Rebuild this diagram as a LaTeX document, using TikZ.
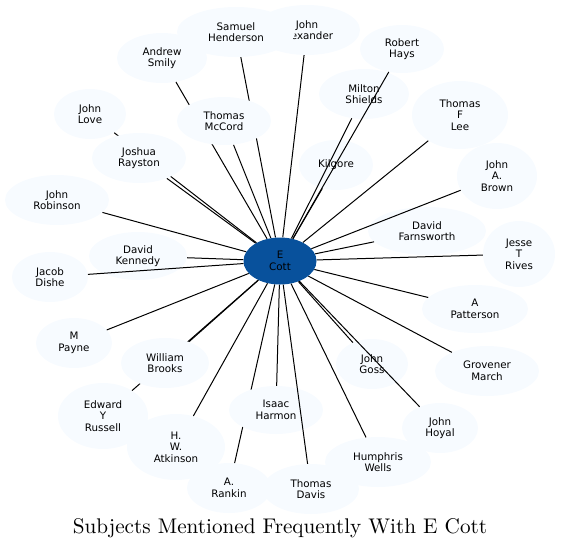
\documentclass[tikz,border=0pt]{standalone}
\usepackage{fontspec}
\usetikzlibrary{shapes.geometric}
\newfontfamily\nodefont{DejaVu Sans}
\newfontfamily\titlefont{lmroman10-regular}[Extension=.otf]
\definecolor{nodefill}{HTML}{F7FBFF}
\definecolor{hubfill}{HTML}{08519C}
\pgfdeclarelayer{below}
\pgfdeclarelayer{edges}
\pgfdeclarelayer{top}
\pgfsetlayers{below,edges,main,top}
\tikzset{
  person/.style={ellipse, fill=nodefill, draw=none, inner sep=0pt, align=center,
    font=\nodefont\fontsize{10.3}{11.6}\selectfont},
  hub/.style={person, fill=hubfill},
  link/.style={draw=black, line width=1pt}
}
\begin{document}
\begin{tikzpicture}[x=1pt,y=-1pt]
\useasboundingbox (0,0) rectangle (561,550);
\begin{pgfonlayer}{below}
\node[person, minimum width=106, minimum height=50] (alexander) at (307,30) {John\\Alexander};
\node[person, minimum width=118, minimum height=50] (henderson) at (236,32) {Samuel\\Henderson};
\node[person, minimum width=90, minimum height=50] (smily) at (162,58) {Andrew\\Smily};
\node[person, minimum width=84, minimum height=48] (hays) at (402,49) {Robert\\Hays};
\node[person, minimum width=90, minimum height=50] (shields) at (364,94) {Milton\\Shields};
\node[person, minimum width=96, minimum height=68] (lee) at (460,115) {Thomas\\F\\Lee};
\node[person, minimum width=72, minimum height=50] (love) at (90,114) {John\\Love};
\node[person, minimum width=74, minimum height=50] (kilgore) at (336,165) {Kilgore};
\node[person, minimum width=80, minimum height=66] (brown) at (497,176) {John\\A.\\Brown};
\node[person, minimum width=104, minimum height=50] (robinson) at (57,200) {John\\Robinson};
\node[person, minimum width=118, minimum height=48] (farnsworth) at (427,231) {David\\Farnsworth};
\node[person, minimum width=72, minimum height=66] (rives) at (519,254) {Jesse\\T\\Rives};
\node[person, minimum width=98, minimum height=48] (kennedy) at (138,256) {David\\Kennedy};
\node[person, minimum width=76, minimum height=50] (dishe) at (50,277) {Jacob\\Dishe};
\node[person, minimum width=106, minimum height=48] (patterson) at (475,309) {A\\Patterson};
\node[person, minimum width=76, minimum height=50] (payne) at (74,343) {M\\Payne};
\node[person, minimum width=72, minimum height=50] (goss) at (372,364) {John\\Goss};
\node[person, minimum width=104, minimum height=50] (march) at (487,371) {Grovener\\March};
\node[person, minimum width=90, minimum height=66] (russell) at (103,416) {Edward\\Y\\Russell};
\node[person, minimum width=76, minimum height=50] (hoyal) at (440,428) {John\\Hoyal};
\node[person, minimum width=98, minimum height=66] (atkinson) at (176,447) {H.\\W.\\Atkinson};
\node[person, minimum width=106, minimum height=50] (wells) at (378,462) {Humphris\\Wells};
\node[person, minimum width=84, minimum height=50] (rankin) at (229,488) {A.\\Rankin};
\node[person, minimum width=96, minimum height=50] (davis) at (311,489) {Thomas\\Davis};
\end{pgfonlayer}
% nodes that hide edges passing beneath them
\node[person, minimum width=94, minimum height=48] (mccord) at (224,121) {Thomas\\McCord};
\node[person, minimum width=94, minimum height=50] (rayston) at (139,158) {Joshua\\Rayston};
\node[person, minimum width=88, minimum height=50] (brooks) at (165,363) {William\\Brooks};
\node[person, minimum width=94, minimum height=48] (harmon) at (276,410) {Isaac\\Harmon};
\node[hub, minimum width=73, minimum height=47] (cott) at (280,261) {E\\Cott};
\begin{pgfonlayer}{edges}
\foreach \t in {alexander,henderson,smily,hays,shields,lee,love,mccord,rayston,kilgore,
  brown,robinson,farnsworth,rives,kennedy,dishe,patterson,payne,brooks,goss,march,
  russell,harmon,hoyal,atkinson,wells,rankin}
  \draw[link] (cott) -- (\t);
\end{pgfonlayer}
\begin{pgfonlayer}{top}
\draw[link] (cott) -- (davis);
\end{pgfonlayer}
\node[font=\titlefont\fontsize{21.2}{25}\selectfont, anchor=base] (title) at (280,533) {Subjects Mentioned Frequently With E Cott};
\end{tikzpicture}
\end{document}
